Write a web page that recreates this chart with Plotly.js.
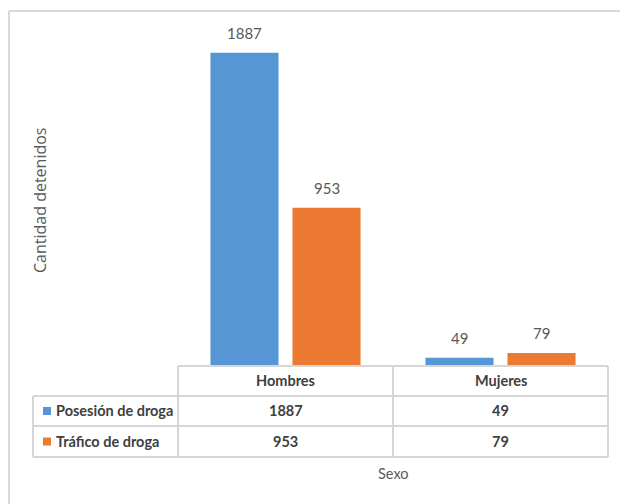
<!DOCTYPE html>
<html>
<head>
<meta charset="utf-8">
<script src="https://cdn.plot.ly/plotly-3.0.1.min.js"></script>
<style>
  html, body { margin: 0; padding: 0; background: #ffffff; }
  #chart { width: 620px; height: 504px; }
</style>
</head>
<body>
<div id="chart"></div>
<script>
// ---- data ----
const categories = ['Hombres', 'Mujeres'];
const seriesNames = ['Posesión de droga', 'Tráfico de droga'];
const posesionValues = [1887, 49];
const traficoValues = [953, 79];
const yAxisTitle = 'Cantidad detenidos';
const xAxisTitle = 'Sexo';

// ---- styles ----
const blue = '#5696d4';
const orange = '#ec7a33';
const labelColor = '#595959';
const tableText = '#404040';
const gridLine = '#d6d6d6';
const face = 'Lato, "Liberation Sans", sans-serif';

const W = 620, H = 504;
const M = {l: 178, r: 12, t: 34, b: 138};
const pw = W - M.l - M.r, ph = H - M.t - M.b;
const px = x => (x - M.l) / pw;          // pixel -> paper x
const py = y => (H - M.b - y) / ph;      // pixel -> paper y

const seriesValues = [posesionValues, traficoValues];
const seriesColors = [blue, orange];

const traces = seriesNames.map((name, i) => ({
  type: 'bar',
  name: name,
  x: categories,
  y: seriesValues[i],
  marker: {color: seriesColors[i]},
  hoverinfo: 'x+y+name'
}));

const annotations = [];
// value labels above bars
const offsets = [-41, 41];
seriesValues.forEach((vals, i) => {
  vals.forEach((v, j) => {
    annotations.push({
      x: categories[j], y: v, xref: 'x', yref: 'y',
      text: String(v), showarrow: false,
      xshift: offsets[i], yshift: 9, xanchor: 'center', yanchor: 'bottom',
      font: {family: face, size: 15, color: labelColor}
    });
  });
});

// table rows (pixel centers)
const rowTop = 366, rowH = [30, 30, 31];
const headerY = py(rowTop + rowH[0] / 2);
const rowPx = [rowTop + rowH[0] + rowH[1] / 2, rowTop + rowH[0] + rowH[1] + rowH[2] / 2];
const rowY = rowPx.map(py);
const tfont = {family: face, size: 14.5, color: tableText, weight: 'bold'};

categories.forEach(c => {
  annotations.push({
    x: c, xref: 'x', y: headerY, yref: 'paper', text: c, showarrow: false,
    xanchor: 'center', yanchor: 'middle', font: tfont
  });
});
const shapes = [];
seriesValues.forEach((vals, i) => {
  vals.forEach((v, j) => {
    annotations.push({
      x: categories[j], xref: 'x', y: rowY[i], yref: 'paper', text: String(v), showarrow: false,
      xanchor: 'center', yanchor: 'middle', font: tfont
    });
  });
  annotations.push({
    x: px(54), xref: 'paper', y: rowY[i], yref: 'paper', xanchor: 'left', yanchor: 'middle',
    text: seriesNames[i], showarrow: false, font: tfont
  });
  // legend key square
  shapes.push({type: 'rect', xref: 'paper', yref: 'paper',
    x0: px(43), x1: px(51), y0: py(rowPx[i] - 4), y1: py(rowPx[i] + 4),
    fillcolor: seriesColors[i], line: {width: 0}});
});

// axis titles
annotations.push({
  x: px(40), xref: 'paper', y: 0.5, yref: 'paper', textangle: -90,
  xanchor: 'center', yanchor: 'middle',
  text: yAxisTitle, showarrow: false,
  font: {family: '"Open Sans", sans-serif', size: 16, color: labelColor}
});
annotations.push({
  x: 0.5, xref: 'paper', y: py(473), yref: 'paper', xanchor: 'center', yanchor: 'middle',
  text: xAxisTitle, showarrow: false,
  font: {family: face, size: 14.5, color: labelColor}
});

// table lines
const lineStyle = {color: gridLine, width: 2};
const tl = px(33);
const yB = [py(366), py(396), py(426), py(457)];
shapes.push(
  {type: 'line', xref: 'paper', yref: 'paper', x0: 0, x1: 1, y0: yB[0], y1: yB[0], line: lineStyle},
  {type: 'line', xref: 'paper', yref: 'paper', x0: tl, x1: 1, y0: yB[1], y1: yB[1], line: lineStyle},
  {type: 'line', xref: 'paper', yref: 'paper', x0: tl, x1: 1, y0: yB[2], y1: yB[2], line: lineStyle},
  {type: 'line', xref: 'paper', yref: 'paper', x0: tl, x1: 1, y0: yB[3], y1: yB[3], line: lineStyle},
  {type: 'line', xref: 'paper', yref: 'paper', x0: tl, x1: tl, y0: yB[1], y1: yB[3], line: lineStyle},
  {type: 'line', xref: 'paper', yref: 'paper', x0: 0, x1: 0, y0: yB[0], y1: yB[3], line: lineStyle},
  {type: 'line', xref: 'paper', yref: 'paper', x0: 0.5, x1: 0.5, y0: yB[0], y1: yB[3], line: lineStyle},
  {type: 'line', xref: 'paper', yref: 'paper', x0: 1, x1: 1, y0: yB[0], y1: yB[3], line: lineStyle},
  // outer chart frame (top and left)
  {type: 'line', xref: 'paper', yref: 'paper', x0: px(9), x1: px(640), y0: py(11), y1: py(11), line: {color: '#d9d9d9', width: 2}},
  {type: 'line', xref: 'paper', yref: 'paper', x0: px(9), x1: px(9), y0: py(11), y1: py(520), line: {color: '#d9d9d9', width: 2}}
);

const layout = {
  width: W, height: H,
  margin: M,
  paper_bgcolor: '#ffffff', plot_bgcolor: '#ffffff',
  barmode: 'group', bargap: 0.237, bargroupgap: 0.17,
  showlegend: false,
  xaxis: {type: 'category', range: [-0.5, 1.5], showticklabels: false, showgrid: false,
          zeroline: false, showline: false, ticks: '', fixedrange: true},
  yaxis: {range: [0, 2000], visible: false, showgrid: false, zeroline: false, fixedrange: true},
  annotations: annotations,
  shapes: shapes
};

Plotly.newPlot('chart', traces, layout, {displayModeBar: false, staticPlot: true});
</script>
</body>
</html>
